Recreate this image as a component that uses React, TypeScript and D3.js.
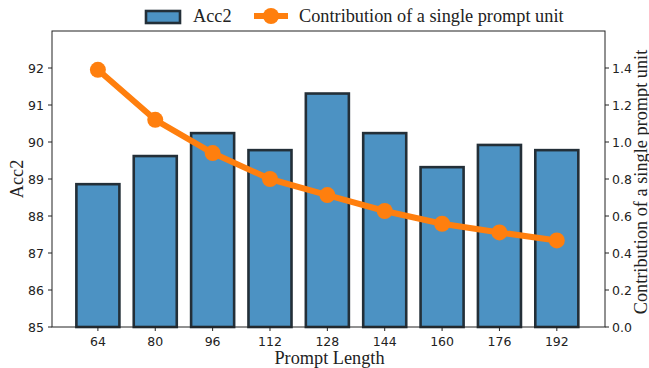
import React from "react";
import * as d3 from "d3";

const categories = ["64", "80", "96", "112", "128", "144", "160", "176", "192"];
const acc2 = [88.86, 89.62, 90.24, 89.78, 91.31, 90.24, 89.32, 89.92, 89.78];
const contribution = [1.39, 1.12, 0.94, 0.8, 0.713, 0.627, 0.558, 0.511, 0.468];
const leftTicks = [85, 86, 87, 88, 89, 90, 91, 92];
const rightTicks = [0, 0.2, 0.4, 0.6, 0.8, 1.0, 1.2, 1.4];

const W = 649, H = 368;
const L = 52, R = 605, T = 31, B = 327;
const BAR_FILL = "#4c92c3";
const BAR_EDGE = "#232f38";
const ORANGE = "#ff7f0e";
const sans = "'DejaVu Sans', sans-serif";
const serif = "'Liberation Serif', 'Times New Roman', serif";

export default function App() {
  const x = d3.scaleLinear().domain([-0.8, categories.length - 1 + 0.84]).range([L, R]);
  const yL = d3.scaleLinear().domain([85, 93]).range([B, T]);
  const yR = d3.scaleLinear().domain([0, 1.6]).range([B, T]);
  const bw = (x(1) - x(0)) * 0.75;
  const line = d3.line<number>().x((_, i) => x(i)).y((d) => yR(d));

  return (
    <svg width={W} height={H} style={{ position: "absolute", left: 0, top: 0 }}>
      <rect width={W} height={H} fill="#fff" />
      {acc2.map((v, i) => (
        <rect key={i} x={x(i) - bw / 2} y={yL(v)} width={bw} height={B - yL(v)}
          fill={BAR_FILL} stroke={BAR_EDGE} strokeWidth={2.6} />
      ))}
      <path d={line(contribution) || ""} fill="none" stroke={ORANGE} strokeWidth={6} strokeLinejoin="round" />
      {contribution.map((v, i) => (
        <circle key={i} cx={x(i)} cy={yR(v)} r={8} fill={ORANGE} />
      ))}
      <rect x={L} y={T} width={R - L} height={B - T} fill="none" stroke="#222" strokeWidth={1} />
      {leftTicks.map((t) => (
        <g key={t}>
          <line x1={L - 4} x2={L} y1={yL(t)} y2={yL(t)} stroke="#222" />
          <text x={L - 8} y={yL(t)} dy="0.36em" textAnchor="end" fontFamily={sans} fontSize={12.5} fill="#222">{t}</text>
        </g>
      ))}
      {rightTicks.map((t) => (
        <g key={t}>
          <line x1={R} x2={R + 4} y1={yR(t)} y2={yR(t)} stroke="#222" />
          <text x={R + 7} y={yR(t)} dy="0.36em" textAnchor="start" fontFamily={sans} fontSize={12.5} fill="#222">{t.toFixed(1)}</text>
        </g>
      ))}
      {categories.map((c, i) => (
        <g key={c}>
          <line x1={x(i)} x2={x(i)} y1={B} y2={B + 4} stroke="#222" />
          <text x={x(i)} y={B + 19} textAnchor="middle" fontFamily={sans} fontSize={12.5} fill="#222">{c}</text>
        </g>
      ))}
      <text x={(L + R) / 2 + 1} y={B + 37} textAnchor="middle" fontFamily={serif} fontSize={18.3} fill="#222">Prompt Length</text>
      <text transform={`translate(23,${(T + B) / 2}) rotate(-90)`} textAnchor="middle" fontFamily={serif} fontSize={18.3} fill="#222">Acc2</text>
      <text transform={`translate(647,${(T + B) / 2 + 3}) rotate(-90)`} textAnchor="middle" fontFamily={serif} fontSize={18.3} fill="#222">Contribution of a single prompt unit</text>
      <rect x={146} y={11} width={34} height={12} fill={BAR_FILL} stroke={BAR_EDGE} strokeWidth={2.6} />
      <text x={193} y={22} fontFamily={serif} fontSize={18.3} fill="#222">Acc2</text>
      <line x1={254} x2={288} y1={16} y2={16} stroke={ORANGE} strokeWidth={6} />
      <circle cx={271} cy={16} r={8} fill={ORANGE} />
      <text x={299} y={22} fontFamily={serif} fontSize={18.3} fill="#222">Contribution of a single prompt unit</text>
    </svg>
  );
}
